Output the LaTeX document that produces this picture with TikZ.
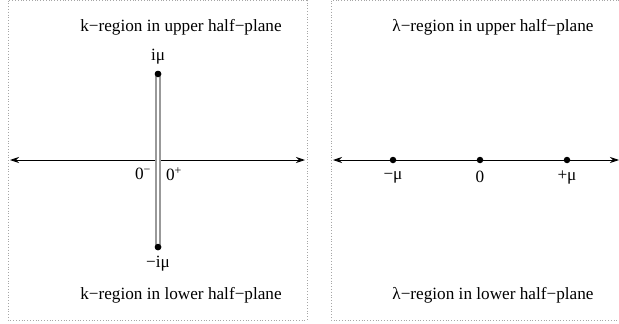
\documentclass[tikz,border=0pt]{standalone}
\usepackage{fontspec}
\setmainfont{Liberation Serif}
\usetikzlibrary{arrows.meta}
\tikzset{
  lbl/.style={inner sep=0pt, font=\fontsize{17.2}{20}\selectfont},
  frame/.style={draw=gray!70, dotted, line width=0.8pt},
  axis/.style={line width=0.9pt, {Stealth[length=9pt,width=6pt]}-{Stealth[length=9pt,width=6pt]}},
  pt/.style={circle, fill=black, inner sep=0pt, minimum size=6.5pt},
  slit/.style={draw=gray!80, line width=1.6pt, double=white, double distance=2.4pt},
}
\begin{document}
\begin{tikzpicture}[x=1pt, y=-1pt]
\useasboundingbox (0,0) rectangle (619,324);
\clip (0,0) rectangle (619,324);
% frames
\draw[frame] (8,0.5) rectangle (307,320);
\draw[frame] (331,0.5) rectangle (640,320);
% left panel
\node[lbl] (kup) at (181,27) {k−region in upper half−plane};
\node[lbl] (klo) at (181,295) {k−region in lower half−plane};
\coordinate (lA) at (10,160);
\coordinate (lB) at (305,160);
\draw[axis] (lA) -- (lB);
\node[pt] (top) at (158,74) {};
\node[pt] (bot) at (158,247) {};
\draw[slit] (top.center) -- (bot.center);
\node[pt] at (158,74) {};
\node[pt] at (158,247) {};
\node[lbl] (imu) at (158,57) {iμ};
\node[lbl] (mimu) at (158,264) {−iμ};
\node[lbl] (zm) at (143,174) {0\textsuperscript{−}};
\node[lbl] (zp) at (174,174) {0\textsuperscript{+}};
% right panel
\node[lbl] (lup) at (493,27) {λ−region in upper half−plane};
\node[lbl] (llo) at (493,295) {λ−region in lower half−plane};
\coordinate (rA) at (333,160);
\coordinate (rB) at (619,160);
\draw[axis] (rA) -- (rB);
\node[pt] (m1) at (393,160) {};
\node[pt] (m0) at (480,160) {};
\node[pt] (m2) at (567,160) {};
\node[lbl] (lm1) at (393,177) {−μ};
\node[lbl] (lm0) at (480,177) {0};
\node[lbl] (lm2) at (567,177) {+μ};
\end{tikzpicture}
\end{document}
